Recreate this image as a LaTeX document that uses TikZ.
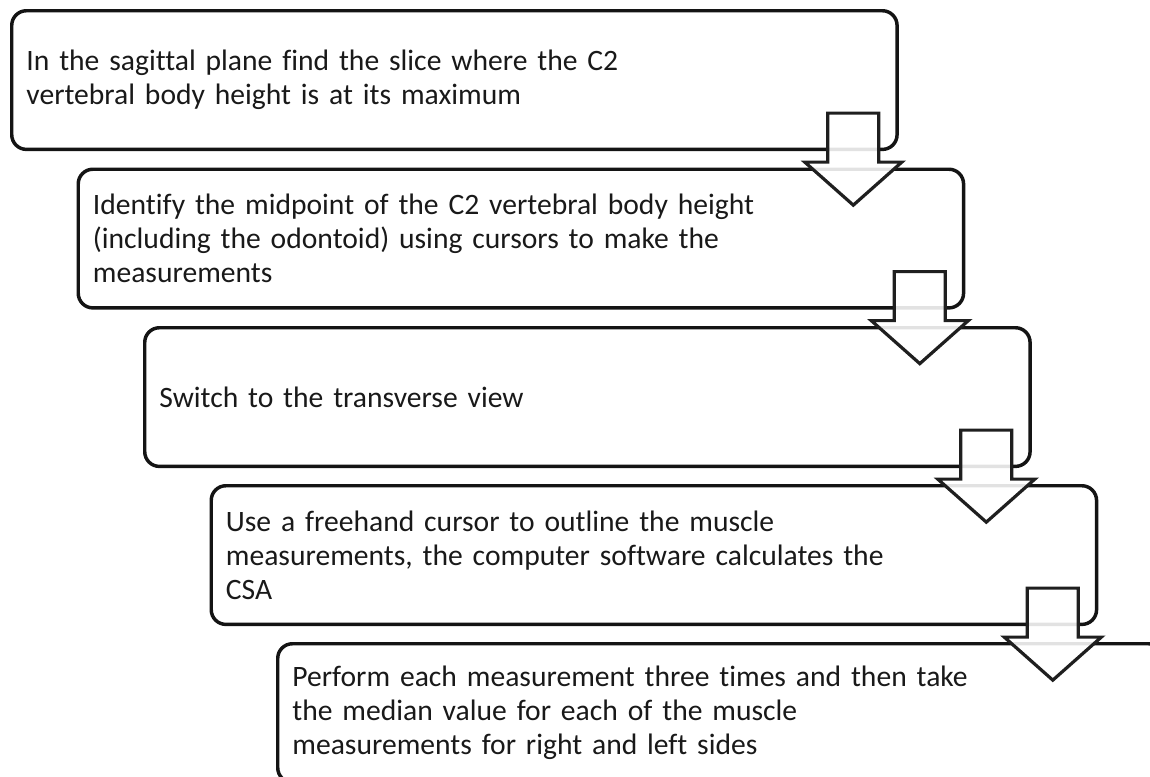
\documentclass[tikz,border=0pt]{standalone}
\usepackage{fontspec}
\setmainfont[Ligatures={NoCommon}]{Carlito}
\usetikzlibrary{calc}

\tikzset{
  stepbox/.style={draw=black!92, line width=2.6pt, rounded corners=11pt, anchor=north west,
    align=left, text width=642pt, minimum height=104pt, inner xsep=11pt,
    text=black!90, font=\fontsize{22.2}{25.6}\selectfont},
  downarrow/.style={draw=black!88, line width=2.4pt, fill=white, fill opacity=0.88, line join=miter}
}

\begin{document}
\begin{tikzpicture}[x=0.75pt,y=0.75pt,yscale=-1,xscale=1]
\useasboundingbox (0,0) rectangle (1150,776);
\clip (0,0) rectangle (1150,776);

%Shape: Rounded Rect [id:sagittal]
\node [stepbox] (sagittal) at (10,9) {In the sagittal plane find the slice where the C2\\vertebral body height is at its maximum};
%Shape: Rounded Rect [id:midpoint]
\node [stepbox] (midpoint) at (76.5,167.5) {Identify the midpoint of the C2 vertebral body height\\(including the odontoid) using cursors to make the\\measurements};
%Shape: Rounded Rect [id:transverse]
\node [stepbox] (transverse) at (143,326) {Switch to the transverse view};
%Shape: Rounded Rect [id:outline]
\node [stepbox] (outline) at (209.5,484) {Use a freehand cursor to outline the muscle\\measurements, the computer software calculates the\\CSA};
%Shape: Rounded Rect [id:median]
\node [stepbox] (median) at (276,642) {Perform each measurement three times and then take\\the median value for each of the muscle\\measurements for right and left sides};

%Shape: Down Arrow [id:arrow1]
\draw [downarrow] ([shift={(-71,-38)}]sagittal.south east) -- ++(51,0) -- ++(0,49) -- ++(23,0) -- ++(-48.5,43) -- ++(-48.5,-43) -- ++(23,0) -- cycle ;
%Shape: Down Arrow [id:arrow2]
\draw [downarrow] ([shift={(-71,-38)}]midpoint.south east) -- ++(51,0) -- ++(0,49) -- ++(23,0) -- ++(-48.5,43) -- ++(-48.5,-43) -- ++(23,0) -- cycle ;
%Shape: Down Arrow [id:arrow3]
\draw [downarrow] ([shift={(-71,-38)}]transverse.south east) -- ++(51,0) -- ++(0,49) -- ++(23,0) -- ++(-48.5,43) -- ++(-48.5,-43) -- ++(23,0) -- cycle ;
%Shape: Down Arrow [id:arrow4]
\draw [downarrow] ([shift={(-71,-38)}]outline.south east) -- ++(51,0) -- ++(0,49) -- ++(23,0) -- ++(-48.5,43) -- ++(-48.5,-43) -- ++(23,0) -- cycle ;

\end{tikzpicture}
\end{document}
